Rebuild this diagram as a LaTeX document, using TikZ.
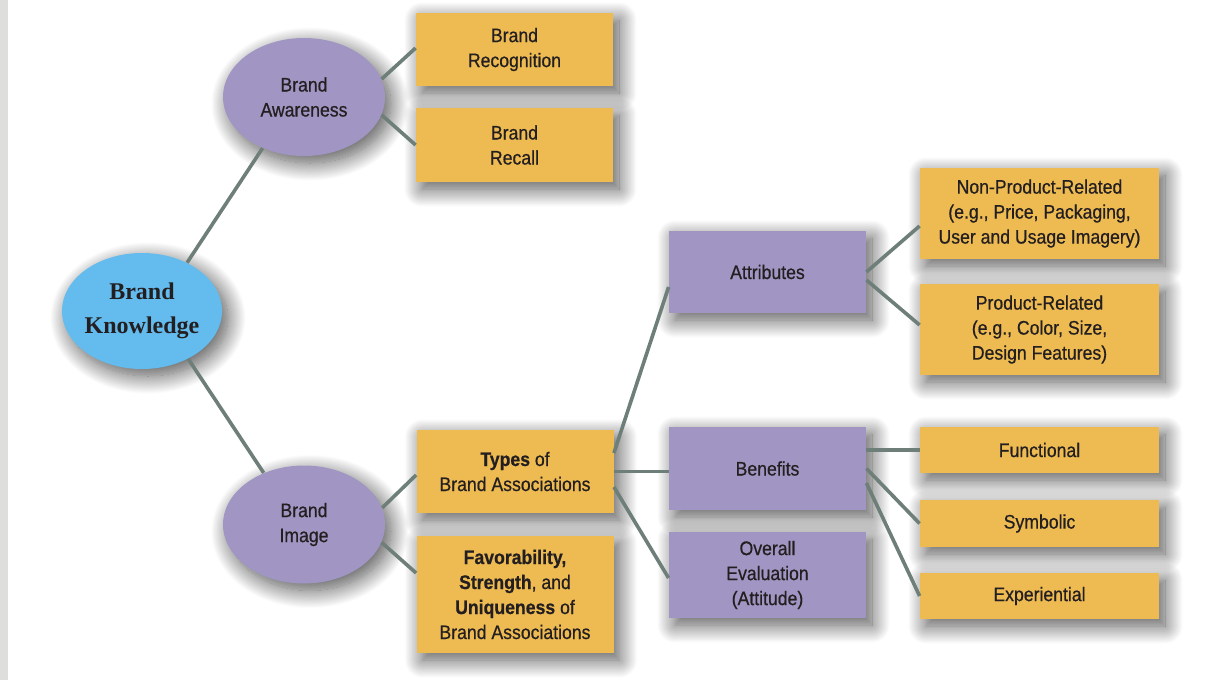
\documentclass[tikz,border=0pt]{standalone}
\usepackage{fontspec}
\setmainfont{Liberation Sans}[FakeStretch=0.9, FakeBold=0.6]
\newfontfamily\headserif{Liberation Serif}
\usetikzlibrary{shapes.geometric,shadows.blur}

\definecolor{ovalblue}{HTML}{63BBEE}
\definecolor{lilac}{HTML}{A196C3}
\definecolor{gold}{HTML}{EEBB53}
\definecolor{linkgrey}{HTML}{6E7F79}
\definecolor{inktext}{HTML}{231F20}
\definecolor{edgegrey}{HTML}{DEDEDC}

\tikzset{
  soft/.style={blur shadow={shadow xshift=3pt, shadow yshift=-3.5pt,
      shadow blur radius=9pt, shadow blur steps=24, shadow opacity=68}},
  label text/.style={text=inktext, align=center,
      font=\fontsize{9.8}{12.5}\selectfont},
  oval/.style={ellipse, fill=lilac, inner sep=0pt, minimum width=81pt,
      minimum height=59pt, soft, label text},
  root/.style={ellipse, fill=ovalblue, inner ysep=0pt, inner xsep=-8pt,
      minimum width=80pt, minimum height=58pt, soft, text=inktext,
      align=center, font=\headserif\bfseries\fontsize{12}{17}\selectfont},
  goldbox/.style={rectangle, fill=gold, inner sep=0pt, soft, label text},
  lilacbox/.style={rectangle, fill=lilac, inner sep=0pt, soft, label text},
  narrow/.style={minimum width=98.5pt},
  wide/.style={minimum width=119.5pt},
  link/.style={draw=linkgrey, line width=1.8pt},
}

\begin{document}
\begin{tikzpicture}[x=0.5pt, y=-0.5pt]
  \useasboundingbox (0,0) rectangle (1214,680);
  \fill[edgegrey] (0,0) rectangle (8,680);

  % central concept and its two branches
  \node[root] (bk) at (142,311) {Brand\\Knowledge};
  \node[oval] (aw) at (304,97) {Brand\\Awareness};
  \node[oval] (bi) at (304,524.5) {Brand\\Image};

  % awareness components
  \node[goldbox, narrow, minimum height=36.5pt] (rec) at (514.5,49.5) {Brand\\Recognition};
  \node[goldbox, narrow, minimum height=37pt] (rcl) at (514.5,145) {Brand\\Recall};

  % image components
  \node[goldbox, narrow, minimum height=41.5pt] (types) at (515,471.5)
    {\textbf{Types} of\\Brand Associations};
  \node[goldbox, narrow, minimum height=58.5pt] (fav) at (515,594.5)
    {\textbf{Favorability,}\\\textbf{Strength}, and\\\textbf{Uniqueness} of\\Brand Associations};

  % types of associations
  \node[lilacbox, narrow, minimum height=41pt] (attr) at (767.5,272) {Attributes};
  \node[lilacbox, narrow, minimum height=41.5pt] (ben) at (767.5,468.5) {Benefits};
  \node[lilacbox, narrow, minimum height=43pt] (ov) at (767.5,575) {Overall\\Evaluation\\(Attitude)};

  % attribute kinds
  \node[goldbox, wide, minimum height=45.5pt] (np) at (1039.5,213.5)
    {Non-Product-Related\\(e.g., Price, Packaging,\\User and Usage Imagery)};
  \node[goldbox, wide, minimum height=45.5pt] (pr) at (1039.5,329.5)
    {Product-Related\\(e.g., Color, Size,\\Design Features)};

  % benefit kinds
  \node[goldbox, wide, minimum height=23pt] (fn) at (1039.5,450) {Functional};
  \node[goldbox, wide, minimum height=23.5pt] (sym) at (1039.5,523.5) {Symbolic};
  \node[goldbox, wide, minimum height=23pt] (exp) at (1039.5,596) {Experiential};

  % connectors
  \draw[link] (bk.47) -- (aw.231);
  \draw[link] (bk.-46) -- (bi.128);
  \draw[link] (aw.13) -- ([yshift=0.75pt]rec.west);
  \draw[link] (aw.-13) -- (rcl.west);
  \draw[link] (bi.12) -- ([yshift=-1.75pt]types.west);
  \draw[link] (bi.-13) -- ([yshift=10.75pt]fav.west);
  \draw[link] ([yshift=9.25pt]types.east) -- ([yshift=-7.5pt]attr.west);
  \draw[link] (types.east) -- (types.east -| ben.west);
  \draw[link] ([yshift=-7.75pt]types.east) -- ([yshift=-1.5pt]ov.west);
  \draw[link] (attr.east) -- ([yshift=-6.25pt]np.west);
  \draw[link] ([yshift=-4pt]attr.east) -- ([yshift=2.25pt]pr.west);
  \draw[link] (ben.east |- fn.west) -- (fn.west);
  \draw[link] (ben.east) -- (sym.west);
  \draw[link] ([yshift=-7.25pt]ben.east) -- (exp.west);
\end{tikzpicture}
\end{document}
